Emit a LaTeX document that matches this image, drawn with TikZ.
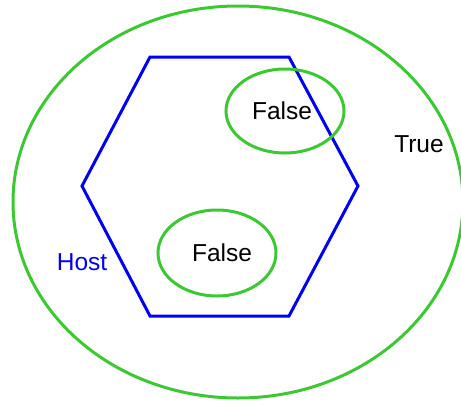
\documentclass[tikz,border=0pt]{standalone}
\usepackage{fontspec}
\setmainfont{Liberation Sans}
\definecolor{setgreen}{RGB}{60,200,50}
\definecolor{hostblue}{RGB}{0,0,240}
\begin{document}
\begin{tikzpicture}[x=1pt,y=-1pt,
  setline/.style={draw=setgreen,line width=3pt},
  hexline/.style={draw=hostblue,line width=3pt,line join=miter},
  lbl/.style={inner sep=0pt,font=\fontsize{24.5}{28}\selectfont}]
\useasboundingbox (0,0) rectangle (461,400);
% outer set
\draw[setline] (238,202) ellipse [x radius=225, y radius=196];
% hexagon
\coordinate (h1) at (150,57);
\coordinate (h2) at (289,57);
\coordinate (h3) at (358,186);
\coordinate (h4) at (289,316);
\coordinate (h5) at (150,316);
\coordinate (h6) at (82,186);
\draw[hexline] (h1) -- (h2) -- (h3) -- (h4) -- (h5) -- (h6) -- cycle;
% inner sets
\draw[setline] (285,111) ellipse [x radius=59, y radius=42];
\draw[setline] (217,253) ellipse [x radius=59, y radius=43];
% labels
\node[lbl] (f1) at (282,111) {False};
\node[lbl] (f2) at (222,253) {False};
\node[lbl] (t) at (419,144) {True};
\node[lbl,text=hostblue] (host) at (82,262) {Host};
\end{tikzpicture}
\end{document}
